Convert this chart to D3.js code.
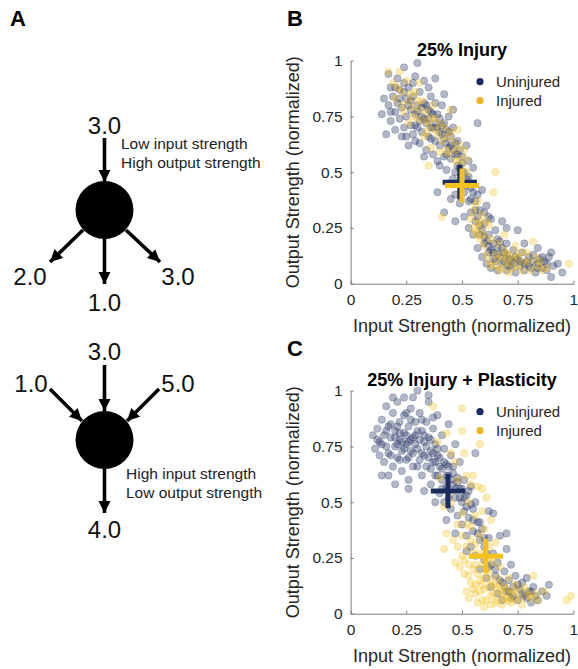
<!DOCTYPE html>
<html>
<head>
<meta charset="utf-8">
<script src="https://cdn.jsdelivr.net/npm/d3@7"></script>
<style>
  body { margin: 0; background: #fff; }
  svg { font-family: "Liberation Sans", Arial, sans-serif; }
  .axis path, .axis line { stroke: #7a7a7a; }
  .axis text { fill: #262626; font-size: 15.5px; }
</style>
</head>
<body>
<svg id="fig" width="578" height="669"></svg>
<script>
// panel A: node diagrams (weights on edges)
const topIn = ["3.0"];
const topOut = ["2.0", "1.0", "3.0"];
const botIn = ["1.0", "3.0", "5.0"];
const botOut = ["4.0"];

// panel B/C: tick labels
const tickVals = [0, 0.25, 0.5, 0.75, 1];
const tickLabels = ["0", "0.25", "0.5", "0.75", "1"];
const groups = ["Uninjured", "Injured"];

// B: 25% Injury
const bUninjured = [[0.14,0.76],[0.15,0.83],[0.16,0.67],[0.17,0.8],[0.17,0.94],[0.18,0.88],[0.18,0.73],[0.19,0.84],[0.2,0.77],[0.2,0.69],[0.21,0.92],[0.21,0.81],[0.22,0.74],[0.22,0.87],[0.23,0.66],[0.23,0.79],[0.24,0.9],[0.24,0.7],[0.25,0.83],[0.25,0.75],[0.26,0.62],[0.26,0.88],[0.27,0.78],[0.27,0.71],[0.28,0.84],[0.28,0.67],[0.29,0.93],[0.29,0.76],[0.3,0.99],[0.3,0.8],[0.3,0.7],[0.31,0.63],[0.31,0.86],[0.32,0.75],[0.32,0.68],[0.33,0.81],[0.33,0.91],[0.34,0.72],[0.34,0.6],[0.35,0.78],[0.35,0.66],[0.36,0.84],[0.36,0.7],[0.37,0.58],[0.37,0.76],[0.38,0.64],[0.38,0.81],[0.39,0.7],[0.39,0.55],[0.4,0.74],[0.4,0.62],[0.41,0.67],[0.41,0.8],[0.42,0.57],[0.42,0.72],[0.43,0.63],[0.43,0.51],[0.44,0.68],[0.44,0.75],[0.45,0.56],[0.45,0.62],[0.46,0.47],[0.46,0.7],[0.47,0.58],[0.47,0.4],[0.48,0.53],[0.48,0.64],[0.49,0.45],[0.49,0.36],[0.5,0.57],[0.5,0.5],[0.51,0.41],[0.51,0.3],[0.52,0.47],[0.52,0.62],[0.53,0.37],[0.53,0.25],[0.54,0.43],[0.54,0.32],[0.55,0.52],[0.55,0.22],[0.56,0.37],[0.56,0.28],[0.57,0.72],[0.57,0.16],[0.58,0.33],[0.58,0.22],[0.59,0.42],[0.59,0.12],[0.6,0.27],[0.6,0.18],[0.61,0.35],[0.61,0.09],[0.62,0.22],[0.62,0.14],[0.63,0.29],[0.63,0.07],[0.64,0.18],[0.64,0.11],[0.65,0.24],[0.66,0.13],[0.66,0.06],[0.67,0.19],[0.68,0.09],[0.68,0.28],[0.69,0.14],[0.7,0.06],[0.7,0.18],[0.71,0.11],[0.72,0.08],[0.73,0.15],[0.74,0.05],[0.75,0.11],[0.76,0.08],[0.77,0.14],[0.78,0.06],[0.79,0.1],[0.8,0.12],[0.81,0.07],[0.82,0.13],[0.83,0.05],[0.84,0.09],[0.85,0.11],[0.86,0.07],[0.87,0.1],[0.88,0.06],[0.89,0.12],[0.9,0.03],[0.91,0.08],[0.93,0.09],[0.95,0.05],[0.35,0.88],[0.28,0.9],[0.42,0.85],[0.46,0.78],[0.33,0.57],[0.44,0.45],[0.38,0.92],[0.24,0.97],[0.39,0.41],[0.42,0.32],[0.45,0.38],[0.47,0.28],[0.75,0.24],[0.7,0.25],[0.78,0.18],[0.84,0.16],[0.9,0.14],
  [0.3,0.77],[0.31,0.73],[0.32,0.79],[0.33,0.74],[0.34,0.8],[0.35,0.74],[0.36,0.77],[0.37,0.7],[0.38,0.72],[0.39,0.76],[0.4,0.68],[0.41,0.71],[0.42,0.65],[0.43,0.69],[0.44,0.61],[0.45,0.66],[0.46,0.6],[0.47,0.63],[0.48,0.58],[0.49,0.6],[0.5,0.54],[0.51,0.5],[0.52,0.44],[0.53,0.48],[0.54,0.38],[0.55,0.41],[0.56,0.33],[0.57,0.3],[0.58,0.26],[0.59,0.24],[0.6,0.21],[0.61,0.19],[0.62,0.17],[0.63,0.15],[0.64,0.14],[0.65,0.1],[0.66,0.16],[0.67,0.12],[0.68,0.16],[0.69,0.1],[0.7,0.13],[0.71,0.08],[0.72,0.11],[0.73,0.09],[0.74,0.12],[0.76,0.1],[0.78,0.09],[0.8,0.08],[0.82,0.1],[0.84,0.07],[0.86,0.12],[0.88,0.09],[0.22,0.83],[0.24,0.86],[0.26,0.8],[0.27,0.82],[0.29,0.71],[0.2,0.88],[0.18,0.77],[0.25,0.66],[0.29,0.64],[0.36,0.65],[0.4,0.53],[0.43,0.58],[0.47,0.5],[0.49,0.52],[0.53,0.55],[0.55,0.45],[0.57,0.4],[0.6,0.32],[0.62,0.3],[0.66,0.2]];
const bInjured = [[0.17,0.95],[0.19,0.9],[0.2,0.83],[0.22,0.95],[0.23,0.86],[0.24,0.77],[0.25,0.91],[0.26,0.72],[0.27,0.85],[0.28,0.79],[0.3,0.74],[0.31,0.9],[0.32,0.82],[0.33,0.66],[0.34,0.77],[0.35,0.71],[0.36,0.61],[0.37,0.8],[0.38,0.74],[0.39,0.67],[0.4,0.59],[0.41,0.3],[0.42,0.7],[0.43,0.66],[0.44,0.58],[0.45,0.78],[0.46,0.64],[0.47,0.55],[0.48,0.69],[0.5,0.53],[0.51,0.6],[0.52,0.56],[0.53,0.45],[0.54,0.29],[0.55,0.25],[0.56,0.35],[0.57,0.27],[0.58,0.2],[0.59,0.31],[0.6,0.22],[0.61,0.13],[0.62,0.26],[0.63,0.08],[0.64,0.41],[0.65,0.5],[0.65,0.13],[0.66,0.18],[0.67,0.06],[0.68,0.12],[0.69,0.22],[0.7,0.1],[0.71,0.05],[0.72,0.13],[0.73,0.07],[0.74,0.17],[0.75,0.12],[0.77,0.06],[0.79,0.14],[0.8,0.1],[0.82,0.19],[0.84,0.08],[0.86,0.06],[0.88,0.07],[0.98,0.09],[0.57,0.37],[0.49,0.62],[0.35,0.53],
  [0.21,0.88],[0.23,0.8],[0.26,0.82],[0.29,0.86],[0.31,0.78],[0.33,0.73],[0.34,0.68],[0.36,0.74],[0.38,0.69],[0.4,0.72],[0.41,0.64],[0.43,0.6],[0.45,0.68],[0.47,0.6],[0.49,0.56],[0.52,0.5],[0.55,0.32],[0.57,0.22],[0.58,0.28],[0.6,0.17],[0.62,0.1],[0.63,0.2],[0.65,0.08],[0.66,0.11],[0.68,0.07],[0.69,0.15],[0.7,0.13],[0.71,0.09],[0.73,0.11],[0.75,0.08],[0.76,0.14],[0.78,0.1],[0.81,0.06],[0.83,0.12],[0.85,0.1],[0.58,0.25],[0.56,0.23],[0.61,0.28],[0.3,0.82],[0.28,0.75]];
const bMeans = [[0.49,0.455],[0.5,0.44]];

// C: 25% Injury + Plasticity
const cUninjured = [[0.1,0.8],[0.11,0.74],[0.12,0.83],[0.13,0.77],[0.13,0.71],[0.14,0.87],[0.15,0.8],[0.15,0.68],[0.16,0.93],[0.16,0.75],[0.17,0.84],[0.17,0.62],[0.18,0.79],[0.18,0.71],[0.19,0.9],[0.19,0.66],[0.2,0.82],[0.2,0.75],[0.21,0.95],[0.21,0.7],[0.22,0.86],[0.22,0.78],[0.23,0.64],[0.23,0.73],[0.24,0.89],[0.24,0.81],[0.25,0.76],[0.25,0.69],[0.26,0.84],[0.26,0.6],[0.27,0.92],[0.27,0.78],[0.28,0.72],[0.28,0.66],[0.29,0.86],[0.29,0.8],[0.3,1.0],[0.3,0.74],[0.31,0.69],[0.31,0.9],[0.32,0.82],[0.32,0.62],[0.33,0.77],[0.33,0.71],[0.34,0.86],[0.34,0.66],[0.35,0.95],[0.35,0.79],[0.36,0.73],[0.36,0.58],[0.37,0.83],[0.37,0.68],[0.38,0.76],[0.38,0.62],[0.39,0.89],[0.39,0.71],[0.4,0.66],[0.4,0.54],[0.41,0.8],[0.41,0.6],[0.42,0.74],[0.42,0.5],[0.43,0.67],[0.43,0.57],[0.44,0.85],[0.44,0.62],[0.45,0.71],[0.45,0.47],[0.46,0.58],[0.46,0.66],[0.47,0.52],[0.47,0.76],[0.48,0.61],[0.48,0.44],[0.49,0.56],[0.49,0.68],[0.5,0.5],[0.5,0.4],[0.51,0.6],[0.51,0.46],[0.52,0.53],[0.52,0.35],[0.53,0.43],[0.54,0.57],[0.54,0.3],[0.55,0.47],[0.55,0.37],[0.56,0.72],[0.56,0.26],[0.57,0.41],[0.58,0.33],[0.58,0.2],[0.59,0.38],[0.6,0.24],[0.6,0.3],[0.61,0.16],[0.62,0.34],[0.62,0.21],[0.63,0.12],[0.64,0.27],[0.64,0.45],[0.65,0.17],[0.66,0.09],[0.66,0.23],[0.67,0.35],[0.68,0.14],[0.68,0.06],[0.69,0.19],[0.7,0.1],[0.7,0.29],[0.71,0.15],[0.72,0.07],[0.72,0.22],[0.73,0.12],[0.74,0.17],[0.75,0.06],[0.76,0.11],[0.77,0.14],[0.78,0.08],[0.79,0.16],[0.8,0.1],[0.81,0.05],[0.82,0.12],[0.83,0.08],[0.84,0.06],[0.86,0.1],[0.88,0.08],[0.89,0.13],[0.24,0.97],[0.19,0.97],[0.14,0.62],[0.26,0.56],[0.2,0.58],[0.33,0.55],[0.38,0.5],[0.43,0.42],[0.47,0.36],[0.52,0.28],[0.62,0.46],[0.7,0.36],[0.35,0.98],[0.28,0.97],
  [0.2,0.79],[0.21,0.76],[0.22,0.81],[0.23,0.77],[0.24,0.74],[0.25,0.8],[0.26,0.77],[0.27,0.73],[0.28,0.79],[0.29,0.76],[0.3,0.82],[0.31,0.78],[0.32,0.72],[0.33,0.8],[0.34,0.75],[0.35,0.7],[0.36,0.78],[0.37,0.72],[0.38,0.68],[0.39,0.74],[0.4,0.7],[0.41,0.65],[0.42,0.68],[0.43,0.62],[0.44,0.66],[0.45,0.6],[0.46,0.63],[0.47,0.56],[0.48,0.59],[0.49,0.52],[0.5,0.56],[0.51,0.52],[0.52,0.48],[0.53,0.55],[0.54,0.49],[0.55,0.42],[0.56,0.5],[0.57,0.36],[0.58,0.41],[0.6,0.34],[0.61,0.27],[0.63,0.22],[0.65,0.2],[0.67,0.15],[0.69,0.12],[0.71,0.1],[0.73,0.08],[0.75,0.13],[0.77,0.09],[0.79,0.07],[0.81,0.1],[0.16,0.82],[0.18,0.85],[0.17,0.72],[0.14,0.76],[0.12,0.78],[0.22,0.69],[0.26,0.7],[0.3,0.66],[0.27,0.87],[0.32,0.87],[0.36,0.65],[0.39,0.62],[0.41,0.56],[0.44,0.52],[0.37,0.88],[0.25,0.9],[0.21,0.84]];
const cInjured = [[0.4,0.61],[0.45,0.72],[0.47,0.68],[0.5,0.92],[0.5,0.82],[0.52,0.62],[0.42,0.48],[0.44,0.54],[0.48,0.4],[0.5,0.45],[0.52,0.3],[0.53,0.5],[0.54,0.39],[0.55,0.62],[0.56,0.44],[0.57,0.57],[0.58,0.35],[0.59,0.46],[0.6,0.38],[0.61,0.52],[0.62,0.3],[0.63,0.42],[0.57,0.27],[0.55,0.2],[0.53,0.22],[0.51,0.18],[0.49,0.21],[0.54,0.14],[0.56,0.09],[0.58,0.15],[0.59,0.22],[0.6,0.11],[0.61,0.06],[0.62,0.18],[0.63,0.08],[0.64,0.13],[0.64,0.23],[0.65,0.05],[0.66,0.16],[0.67,0.1],[0.68,0.04],[0.69,0.12],[0.7,0.07],[0.71,0.16],[0.72,0.05],[0.73,0.1],[0.74,0.13],[0.76,0.07],[0.77,0.04],[0.78,0.12],[0.8,0.08],[0.82,0.17],[0.84,0.06],[0.87,0.1],[0.97,0.06],[0.99,0.08],[0.39,0.77],[0.43,0.81],[0.37,0.93],[0.65,0.32],[0.67,0.21],[0.5,0.26],[0.52,0.1],[0.56,0.31],[0.6,0.03],[0.62,0.25],[0.48,0.6],[0.58,0.76],[0.42,0.29],[0.46,0.33],[0.56,0.13],[0.53,0.07],
  [0.5,0.35],[0.52,0.4],[0.54,0.33],[0.55,0.27],[0.56,0.22],[0.57,0.18],[0.58,0.1],[0.59,0.13],[0.6,0.16],[0.61,0.2],[0.62,0.12],[0.63,0.15],[0.64,0.09],[0.65,0.12],[0.66,0.06],[0.67,0.13],[0.68,0.09],[0.69,0.07],[0.7,0.11],[0.71,0.06],[0.72,0.09],[0.74,0.06],[0.75,0.1],[0.79,0.1],[0.81,0.07],[0.83,0.09],[0.53,0.17],[0.51,0.24],[0.48,0.3],[0.47,0.23],[0.55,0.11],[0.59,0.06],[0.63,0.04],[0.57,0.05],[0.6,0.27],[0.45,0.5],[0.43,0.36],[0.54,0.58],[0.59,0.56],[0.51,0.72]];
const cMeans = [[0.437,0.55],[0.607,0.258]];

const navy = "#1c2b5e";
const gold = "#f3c21f";
const colors = [navy, gold];

const svg = d3.select("#fig");

// arrow head marker
svg.append("defs").append("marker")
  .attr("id", "head")
  .attr("viewBox", "0 0 10 10")
  .attr("refX", 10).attr("refY", 5)
  .attr("markerWidth", 3.4).attr("markerHeight", 3.4)
  .attr("markerUnits", "strokeWidth")
  .attr("orient", "auto")
  .append("path")
  .attr("d", "M0,0 L10,5 L0,10 z")
  .attr("fill", "#000");

// panel letters
const letters = [["A", 10, 26], ["B", 287, 26], ["C", 287, 356]];
svg.selectAll("text.letter")
  .data(letters)
  .enter().append("text")
  .attr("class", "letter")
  .attr("x", d => d[1])
  .attr("y", d => d[2])
  .text(d => d[0])
  .style("font-size", "22px")
  .style("font-weight", "bold");

// ---------- Panel A ----------
function drawNode(cx, cy, r, ins, outs, note, noteX, noteY) {
  const g = svg.append("g");
  g.append("circle").attr("cx", cx).attr("cy", cy).attr("r", r).attr("fill", "#000");
  const edges = ins.concat(outs);
  g.selectAll("line")
    .data(edges)
    .enter().append("line")
    .attr("x1", d => d.x1).attr("y1", d => d.y1)
    .attr("x2", d => d.x2).attr("y2", d => d.y2)
    .attr("stroke", "#000")
    .attr("stroke-width", 3.6)
    .attr("marker-end", "url(#head)");
  g.selectAll("text.w")
    .data(edges)
    .enter().append("text")
    .attr("class", "w")
    .attr("x", d => d.lx).attr("y", d => d.ly)
    .attr("text-anchor", "middle")
    .attr("dy", "0.36em")
    .style("font-size", "24px")
    .style("fill", "#111")
    .text(d => d.label);
  g.selectAll("text.note")
    .data(note)
    .enter().append("text")
    .attr("class", "note")
    .attr("x", noteX)
    .attr("y", (d, i) => noteY + i * 19)
    .style("font-size", "15.5px")
    .style("fill", "#222")
    .text(d => d);
}

drawNode(104.5, 210, 29,
  [{ x1: 104.5, y1: 138, x2: 104.5, y2: 182, lx: 104.5, ly: 125, label: topIn[0] }],
  [
    { x1: 83, y1: 230, x2: 50, y2: 262, lx: 30, ly: 276, label: topOut[0] },
    { x1: 104.5, y1: 239, x2: 104.5, y2: 284, lx: 104.5, ly: 302, label: topOut[1] },
    { x1: 126, y1: 230, x2: 160, y2: 262, lx: 178, ly: 276, label: topOut[2] }
  ],
  ["Low input strength", "High output strength"], 121, 149);

drawNode(104.5, 440, 29,
  [
    { x1: 50, y1: 389, x2: 82, y2: 421, lx: 31, ly: 383, label: botIn[0] },
    { x1: 104.5, y1: 365, x2: 104.5, y2: 411, lx: 104.5, ly: 351, label: botIn[1] },
    { x1: 159, y1: 389, x2: 127, y2: 421, lx: 178, ly: 383, label: botIn[2] }
  ],
  [{ x1: 104.5, y1: 469, x2: 104.5, y2: 513, lx: 104.5, ly: 529, label: botOut[0] }],
  ["High input strength", "Low output strength"], 126, 479);

// ---------- Panels B and C ----------
function scatterPanel(top, title, uninj, inj, means) {
  const x = d3.scaleLinear().domain([0, 1]).range([350.6, 573.4]);
  const y = d3.scaleLinear().domain([0, 1]).range([top + 223, top]);
  const g = svg.append("g");

  // points
  [uninj, inj].forEach((pts, k) => {
    g.append("g").selectAll("circle")
      .data(pts)
      .enter().append("circle")
      .attr("cx", d => x(d[0]))
      .attr("cy", d => y(d[1]))
      .attr("r", 3.7)
      .attr("fill", colors[k])
      .attr("fill-opacity", k === 0 ? 0.34 : 0.32)
      .attr("stroke", colors[k])
      .attr("stroke-opacity", 0.35)
      .attr("stroke-width", 0.6);
  });

  // group means as crosses
  const arm = 0.077;
  g.append("g").selectAll("path")
    .data(means)
    .enter().append("path")
    .attr("d", d => "M" + x(d[0] - arm) + "," + y(d[1]) + "H" + x(d[0] + arm) +
                    "M" + x(d[0]) + "," + y(d[1] - arm) + "V" + y(d[1] + arm))
    .attr("stroke", (d, i) => colors[i])
    .attr("stroke-width", 5)
    .attr("fill", "none");

  // axes (ticks inside, like MATLAB)
  g.append("g")
    .attr("class", "axis")
    .attr("transform", "translate(0," + (top + 223) + ")")
    .call(d3.axisBottom(x).tickValues(tickVals).tickFormat((d, i) => tickLabels[i])
      .tickSizeInner(-3).tickSizeOuter(0).tickPadding(10));
  g.append("g")
    .attr("class", "axis")
    .attr("transform", "translate(350.6,0)")
    .call(d3.axisLeft(y).tickValues(tickVals).tickFormat((d, i) => tickLabels[i])
      .tickSizeInner(-3).tickSizeOuter(0).tickPadding(8));

  // title
  g.append("text")
    .attr("x", 462).attr("y", top - 5)
    .attr("text-anchor", "middle")
    .style("font-size", "18px")
    .style("font-weight", "bold")
    .text(title);

  // axis labels
  g.append("text")
    .attr("x", 462).attr("y", top + 271)
    .attr("text-anchor", "middle")
    .style("font-size", "18px")
    .style("fill", "#262626")
    .text("Input Strength (normalized)");
  g.append("text")
    .attr("transform", "rotate(-90)")
    .attr("x", -(top + 111.5)).attr("y", 299)
    .attr("text-anchor", "middle")
    .style("font-size", "18px")
    .style("fill", "#262626")
    .text("Output Strength (normalized)");

  // legend
  const legend = g.append("g").attr("transform", "translate(480," + (top + 21) + ")");
  const items = legend.selectAll("g")
    .data(groups)
    .enter().append("g")
    .attr("transform", (d, i) => "translate(0," + (i * 19) + ")");
  items.append("circle")
    .attr("r", 3.6)
    .attr("fill", (d, i) => i === 0 ? navy : "#e9b824");
  items.append("text")
    .attr("x", 16).attr("dy", "0.36em")
    .style("font-size", "15px")
    .style("fill", "#262626")
    .text(d => d);
}

scatterPanel(60.7, "25% Injury", bUninjured, bInjured, bMeans);
scatterPanel(390.7, "25% Injury + Plasticity", cUninjured, cInjured, cMeans);
</script>
</body>
</html>
